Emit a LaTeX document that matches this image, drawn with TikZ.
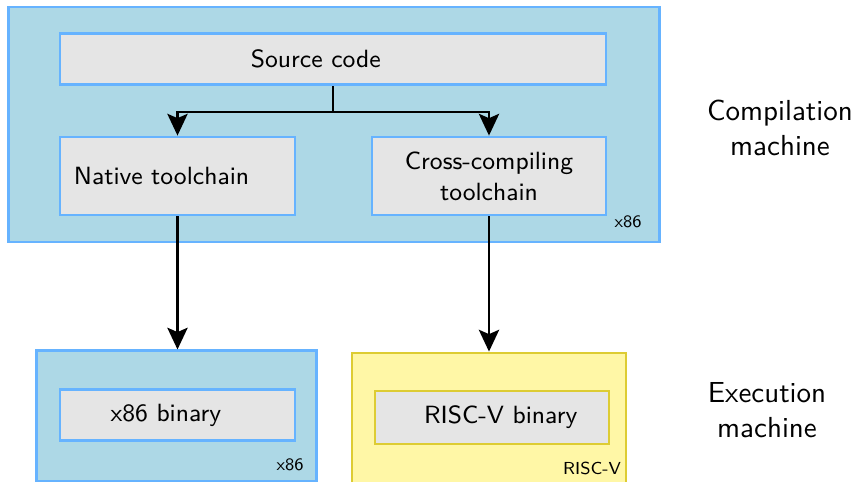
\documentclass[tikz,border=0pt]{standalone}
\usetikzlibrary{arrows.meta,positioning}
\definecolor{machblue}{HTML}{ADD8E6}
\definecolor{edgeblue}{HTML}{66B3FF}
\definecolor{machyellow}{HTML}{FFF7A6}
\definecolor{edgeyellow}{HTML}{DDCC33}
\definecolor{boxgray}{HTML}{E5E5E5}
\tikzset{
  machine/.style = {draw=edgeblue, fill=machblue, line width=1pt, rectangle},
  riscmachine/.style = {machine, draw=edgeyellow, fill=machyellow},
  tool/.style    = {draw=edgeblue, fill=boxgray, line width=1pt, rectangle,
                    font=\sffamily\fontsize{8.6}{10.6}\selectfont, align=center, inner sep=0pt},
  risctool/.style = {tool, draw=edgeyellow},
  archlabel/.style = {font=\sffamily\fontsize{6}{7}\selectfont, inner sep=0pt},
  side/.style    = {font=\sffamily, align=center},
  flow/.style    = {->, line width=0.85pt}
}

\begin{document}
\begin{tikzpicture}[x=0.345pt, y=-0.345pt, >={Stealth[length=7.5pt,width=7pt,inset=1.5pt]}]
\useasboundingbox (0,0) rectangle (856,482);

% the machines
\node[machine, minimum width=224.9pt, minimum height=81.1pt] (comp) at (334,124.5) {};
\node[machine, minimum width=96.3pt, minimum height=44.9pt] (exex) at (176.5,416) {};
\node[riscmachine, minimum width=94.5pt, minimum height=49pt] (exrv) at (489,424) {};

% the tools and binaries
\node[tool, minimum width=188.4pt, minimum height=17.9pt] (src) at (333,59) {\hspace*{-11.8pt}Source code};
\node[tool, minimum height=26.9pt, text width=71.5pt, inner xsep=4.8pt, align=left] (native) at (177.5,176) {Native toolchain};
\node[tool, minimum width=80.7pt, minimum height=26.9pt] (cross) at (489,176) {Cross-compiling\\toolchain};
\node[tool, minimum width=81.1pt, minimum height=17.9pt] (binx) at (177.5,415) {\hspace*{-8pt}x86 binary};
\node[risctool, minimum width=80.7pt, minimum height=18.3pt] (binrv) at (492,417.5) {\hspace*{6pt}RISC-V binary};

% architecture labels
\node[archlabel] (lcomp) at (628,222) {x86};
\node[archlabel] (lexex) at (290,465) {x86};
\node[archlabel] (lexrv) at (592,468) {RISC-V};

% side labels
\node[side] (compm) at (780,128) {Compilation\\machine};
\node[side] (execm) at (767,410) {Execution\\machine};

% arrows
\coordinate (split) at (333,112);
\draw[flow] (src.south) -- (split) -| (native.north);
\draw[flow] (split) -| (cross.north);
\draw[flow] (native.south) -- (native.south |- exex.north);
\draw[flow] (cross.south) -- (cross.south |- exrv.north);

\end{tikzpicture}
\end{document}
